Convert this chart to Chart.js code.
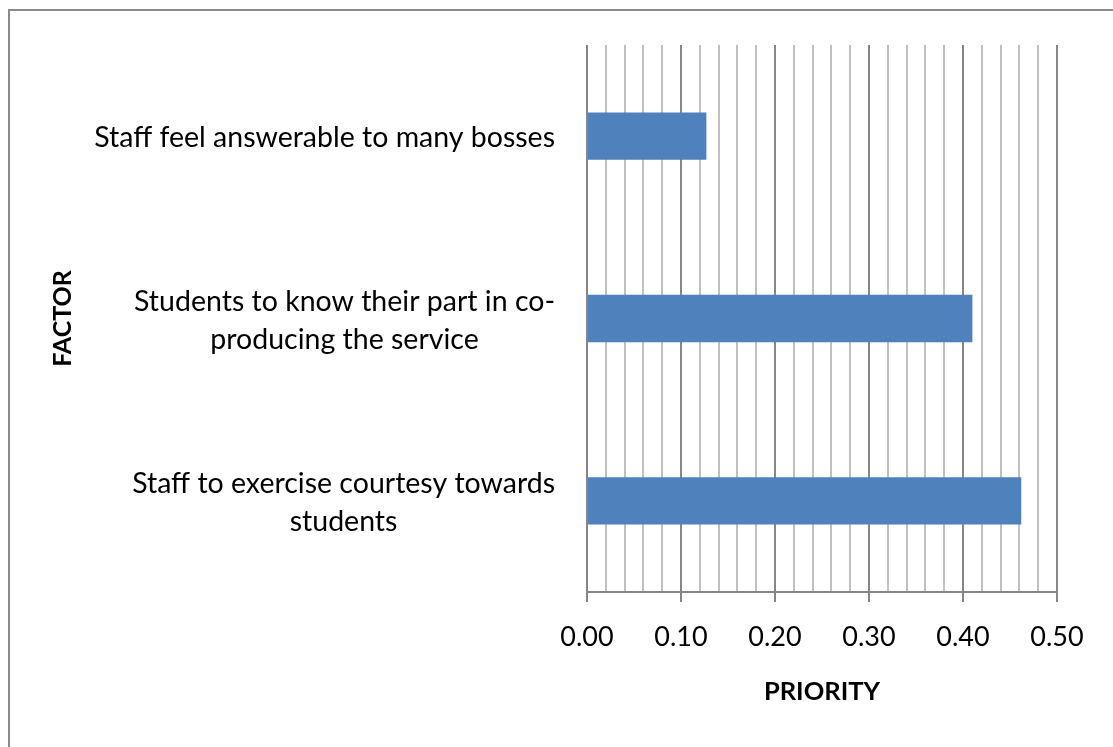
<!DOCTYPE html>
<html>
<head>
<meta charset="utf-8">
<script src="https://cdn.jsdelivr.net/npm/chart.js@4.4.1/dist/chart.umd.min.js"></script>
<style>
  html, body { margin: 0; padding: 0; background: #fff; overflow: hidden; }
  #frame { position: absolute; left: 8px; top: 9px; width: 2000px; height: 2000px;
           border-top: 2px solid #8a8a8a; border-left: 2px solid #8a8a8a; }
  #priorityChart { position: absolute; left: 0; top: 0; }
</style>
</head>
<body>
<div id="frame"></div>
<canvas id="priorityChart" width="1113" height="747"></canvas>
<script>
var factors = [
    'Staff feel answerable to many bosses',
    ['Students to know their part in co-', 'producing the service'],
    ['Staff to exercise courtesy towards', 'students']
];
var priority = [0.127, 0.41, 0.462];
var xMin = 0, xMax = 0.5, minorStep = 0.02;

var FONT = 'Lato, "Open Sans", sans-serif';
var MAJOR = '#868686', MINOR = '#c0c0c0';

function isMajor(v) {
    return Math.abs(v * 10 - Math.round(v * 10)) < 1e-6;
}

// category labels: block right-aligned next to the plot, lines centred inside it
var factorLabels = {
    id: 'factorLabels',
    afterDraw: function (chart) {
        var ctx = chart.ctx, yScale = chart.scales.y, xScale = chart.scales.x;
        ctx.save();
        ctx.font = '28.5px ' + FONT;
        ctx.fillStyle = '#000';
        ctx.textAlign = 'center';
        ctx.textBaseline = 'middle';
        var lh = 38;
        chart.data.labels.forEach(function (lab, i) {
            var lines = Array.isArray(lab) ? lab : [lab];
            var w = 0;
            lines.forEach(function (l) { w = Math.max(w, ctx.measureText(l).width); });
            var cx = xScale.left - 32 - w / 2;
            var cy = yScale.getPixelForTick(i) + 2;
            lines.forEach(function (l, j) {
                ctx.fillText(l, cx, cy + (j - (lines.length - 1) / 2) * lh);
            });
        });
        ctx.restore();
    }
};

var ctx = document.getElementById('priorityChart').getContext('2d');
var chart = new Chart(ctx, {
    type: 'bar',
    data: {
        labels: factors,
        datasets: [{
            data: priority,
            backgroundColor: '#4f81bd',
            borderWidth: 0,
            barPercentage: 0.26,
            categoryPercentage: 1
        }]
    },
    options: {
        indexAxis: 'y',
        responsive: false,
        animation: false,
        layout: { padding: { left: 40, top: 45, right: 56, bottom: 0 } },
        plugins: { legend: { display: false }, tooltip: { enabled: false } },
        scales: {
            x: {
                min: xMin,
                max: xMax,
                afterFit: function (s) { s.height = 155; },
                ticks: {
                    stepSize: minorStep,
                    autoSkip: false,
                    maxRotation: 0,
                    padding: 19,
                    color: '#000',
                    font: { family: FONT, size: 27 },
                    callback: function (v) { return isMajor(v) ? v.toFixed(2) : ''; }
                },
                grid: {
                    lineWidth: 2,
                    tickLength: 10,
                    color: function (c) { return isMajor(c.tick.value) ? MAJOR : MINOR; },
                    tickColor: function (c) { return isMajor(c.tick.value) ? MAJOR : 'rgba(0,0,0,0)'; }
                },
                border: { color: MAJOR, width: 2 },
                title: {
                    display: true,
                    text: 'PRIORITY',
                    color: '#000',
                    font: { family: FONT, size: 25.5, weight: 'bold' },
                    padding: { top: 0, bottom: 40 }
                }
            },
            y: {
                afterFit: function (s) { s.width = 547; },
                ticks: { display: false },
                grid: { display: false },
                border: { display: false },
                title: {
                    display: true,
                    text: 'FACTOR',
                    color: '#000',
                    font: { family: FONT, size: 25, weight: 'bold' },
                    padding: { top: 8, bottom: 0 }
                }
            }
        }
    },
    plugins: [factorLabels]
});
</script>
</body>
</html>
